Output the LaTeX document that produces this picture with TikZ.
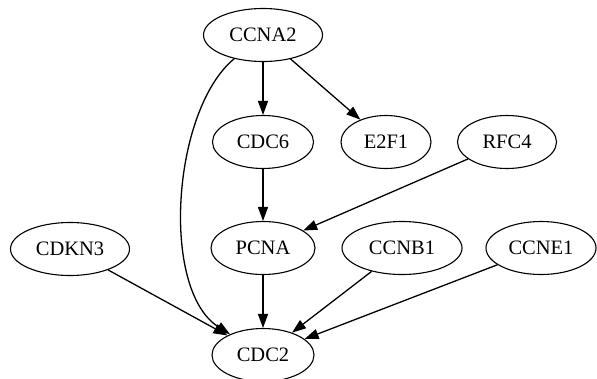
\documentclass[tikz,border=0pt]{standalone}
\usepackage{fontspec}
\setmainfont{Liberation Serif}
\usepackage{tikz}
\usetikzlibrary{arrows.meta,shapes}
\tikzstyle{gene} = [draw, ellipse, line width=1.1pt, minimum height=53pt, inner sep=0pt, font=\fontsize{20.5}{24}\selectfont]
\tikzstyle{arrow} = [line width=1.3pt, -{Triangle[length=14pt,width=10pt]}]

\begin{document}
\begin{tikzpicture}[x=1pt, y=-1pt]
\useasboundingbox (0,0) rectangle (597,378);

% Genes
\node[gene, minimum width=119pt] (ccna2) at (263,35) {CCNA2};
\node[gene, minimum width=101pt] (cdc6) at (263,142) {CDC6};
\node[gene, minimum width=90pt] (e2f1) at (386,142) {E2F1};
\node[gene, minimum width=99pt] (rfc4) at (507,142) {RFC4};
\node[gene, minimum width=119pt] (cdkn3) at (70,249) {CDKN3};
\node[gene, minimum width=104pt] (pcna) at (263,248) {PCNA};
\node[gene, minimum width=120pt] (ccnb1) at (402,248) {CCNB1};
\node[gene, minimum width=110pt] (ccne1) at (541,248) {CCNE1};
\node[gene, minimum width=102pt] (cdc2) at (263,355) {CDC2};

% Edges
\draw[arrow] (ccna2) -- (cdc6);
\draw[arrow] (ccna2) -- (e2f1);
\draw[arrow] (ccna2) .. controls (172,110) and (160,290) .. (cdc2);
\draw[arrow] (cdc6) -- (pcna);
\draw[arrow] (rfc4) -- (pcna);

% Into CDC2
\foreach \src in {cdkn3,pcna,ccnb1,ccne1}
    \draw[arrow] (\src) -- (cdc2);
\end{tikzpicture}
\end{document}
